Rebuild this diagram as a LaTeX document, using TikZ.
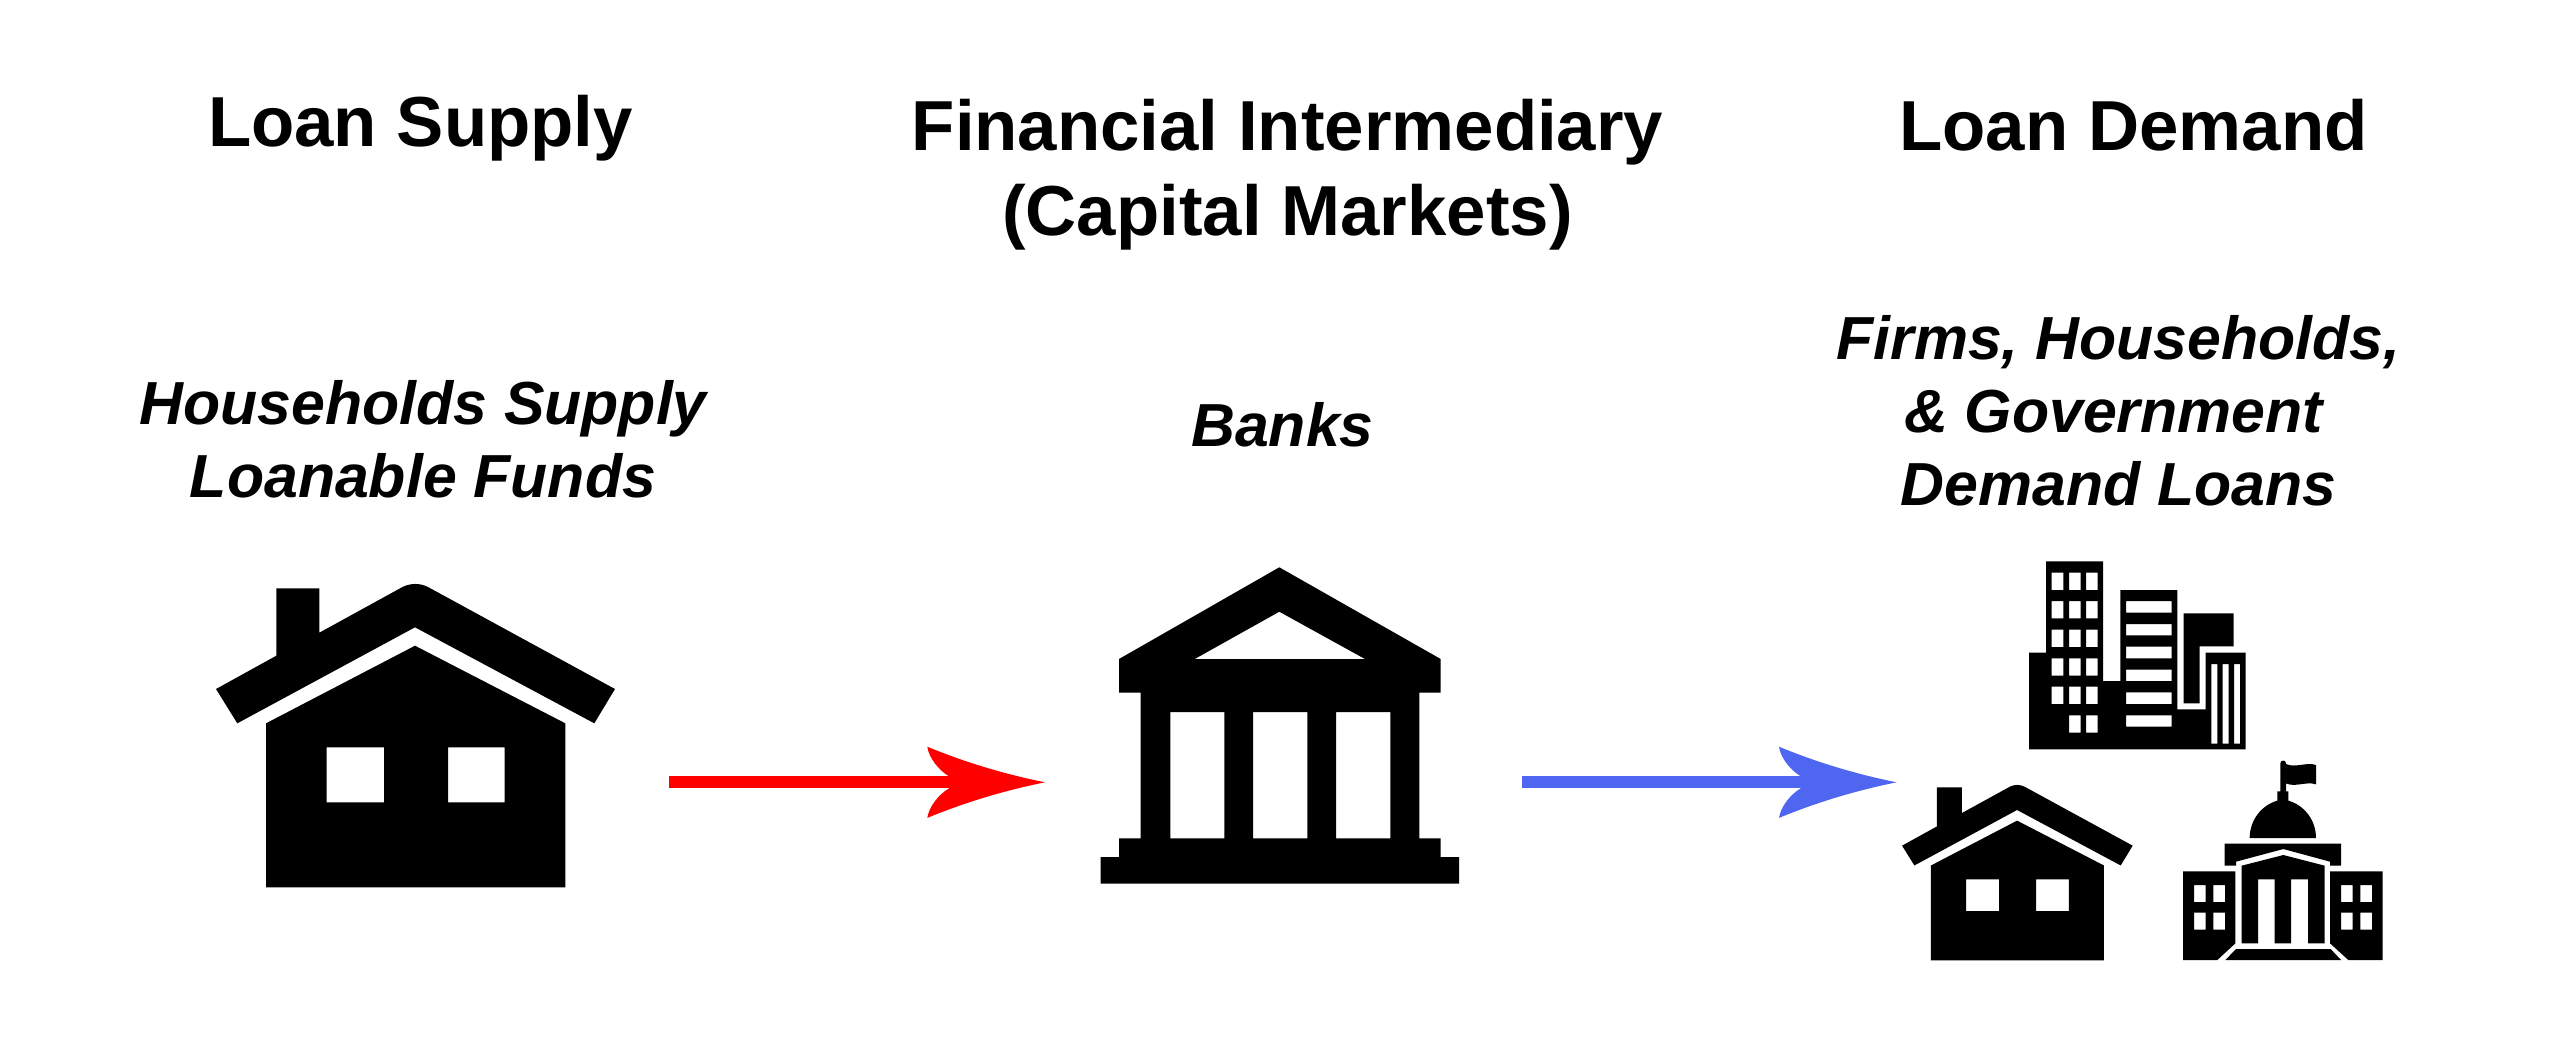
\documentclass[tikz,border=0pt]{standalone}
\usepackage{fontspec}
\setmainfont{Liberation Sans}
\usetikzlibrary{arrows.meta}
\definecolor{supplyred}{HTML}{FF0000}
\definecolor{demandblue}{HTML}{4F66F1}
\pgfdeclarearrow{
  name=Swoop,
  setup code={
    \pgfarrowssettipend{0pt}
    \pgfarrowssetbackend{-58.85pt}
    \pgfarrowssetlineend{-46pt}
    \pgfarrowssetvisualbackend{-46pt}
  },
  drawing code={
    \pgfpathmoveto{\pgfqpoint{0pt}{0pt}}
    \pgfpathcurveto{\pgfqpoint{-20pt}{4pt}}{\pgfqpoint{-40pt}{10pt}}{\pgfqpoint{-58.85pt}{17.8pt}}
    \pgfpathcurveto{\pgfqpoint{-58pt}{12pt}}{\pgfqpoint{-53pt}{6pt}}{\pgfqpoint{-48pt}{3pt}}
    \pgfpathlineto{\pgfqpoint{-48pt}{-3pt}}
    \pgfpathcurveto{\pgfqpoint{-53pt}{-6pt}}{\pgfqpoint{-58pt}{-12pt}}{\pgfqpoint{-58.85pt}{-17.8pt}}
    \pgfpathcurveto{\pgfqpoint{-40pt}{-10pt}}{\pgfqpoint{-20pt}{-4pt}}{\pgfqpoint{0pt}{0pt}}
    \pgfpathclose
    \pgfusepathqfill
  }
}
\tikzset{
  icon/.style={fill=black,draw=none,even odd rule},
  headtext/.style={inner sep=0pt,anchor=base,align=center,font=\bfseries\fontsize{35.4}{42.5}\selectfont},
  subtext/.style={inner sep=0pt,anchor=base,align=center,font=\bfseries\itshape\fontsize{30.4}{36.5}\selectfont},
  flow/.style={line width=6.15pt,-{Swoop}}
}
\newcommand{\HouseIcon}{%
  \fill[icon] (276.3,588.3) -- (319.3,588.3) -- (319.3,632.7) -- (403,586.7)
    .. controls (411,583) and (420,583) .. (428,587)
    -- (615,689) -- (594.3,723.3) -- (415,627.3) -- (237.3,723.3) -- (216,689) -- (276.3,655.7) -- cycle;
  \fill[icon] (266,723.3) -- (415,645.7) -- (565.3,723.3) -- (565.3,887.3) -- (266,887.3) -- cycle
    (326.7,747.3) rectangle (384,802.3)
    (448,747.3) rectangle (504.7,802.3);
}
\begin{document}
\begin{tikzpicture}[x=0.5pt,y=-0.5pt]
\useasboundingbox (0,0) rectangle (2560,1046);
\fill[white] (0,0) rectangle (2560,1046);

% headings
\node[headtext] (supplyhead) at (420.5,146.7) {Loan Supply};
\node[headtext] (bankhead) at (1287.5,235) {Financial Intermediary\\(Capital Markets)};
\node[headtext] (demandhead) at (2133.5,150) {Loan Demand};
\node[subtext] (supplysub) at (423,497.3) {Households Supply\\Loanable Funds};
\node[subtext] (banksub) at (1282.5,446.7) {Banks};
\node[subtext] (demandsub) at (2118.5,505) {Firms, Households,\\\& Government\rule{5pt}{0pt}\\Demand Loans};

% big house
\HouseIcon

% bank
\fill[icon] (1279.3,567.3) -- (1440.7,659) -- (1440.7,692.7) -- (1419.3,692.7) -- (1419.3,838.3)
  -- (1440.7,838.3) -- (1440.7,857) -- (1459,857) -- (1459,883.7) -- (1100.7,883.7) -- (1100.7,857)
  -- (1119,857) -- (1119,838.3) -- (1140.7,838.3) -- (1140.7,692.7) -- (1119,692.7) -- (1119,659) -- cycle
  (1279.3,611.7) -- (1365,659) -- (1194.7,659) -- cycle
  (1170.3,712) rectangle (1224.3,838.3)
  (1253,712) rectangle (1307.3,838.3)
  (1336,712) rectangle (1390.3,838.3);

% small house
\begin{scope}[shift={(1777.2,447.4)},scale=0.578]
  \HouseIcon
\end{scope}

% office buildings
\fill[icon] (2029,652.7) -- (2046,652.7) -- (2046,561.3) -- (2103,561.3) -- (2103,681) -- (2120.3,681)
  -- (2120.3,590) -- (2177.3,590) -- (2177.3,709.3) -- (2205.7,709.3) -- (2205.7,652.7) -- (2245.7,652.7)
  -- (2245.7,749.3) -- (2029,749.3) -- cycle
  (2051.7,572.7) rectangle (2063.3,590) (2069,572.7) rectangle (2080.7,590) (2086,572.7) rectangle (2097.7,590)
  (2051.7,601) rectangle (2063.3,618.3) (2069,601) rectangle (2080.7,618.3) (2086,601) rectangle (2097.7,618.3)
  (2051.7,629.7) rectangle (2063.3,647) (2069,629.7) rectangle (2080.7,647) (2086,629.7) rectangle (2097.7,647)
  (2051.7,658.3) rectangle (2063.3,675.7) (2069,658.3) rectangle (2080.7,675.7) (2086,658.3) rectangle (2097.7,675.7)
  (2051.7,686.7) rectangle (2063.3,704) (2069,686.7) rectangle (2080.7,704) (2086,686.7) rectangle (2097.7,704)
  (2069,715.3) rectangle (2080.7,732.7) (2086,715.3) rectangle (2097.7,732.7)
  (2126,601) rectangle (2171.7,612.7) (2126,624) rectangle (2171.7,635.3) (2126,646.7) rectangle (2171.7,658.3)
  (2126,669.7) rectangle (2171.7,681) (2126,692.3) rectangle (2171.7,704) (2126,715.3) rectangle (2171.7,726.7)
  (2211.3,664) rectangle (2217.3,743.7) (2222.7,664) rectangle (2228.7,743.7) (2234,664) rectangle (2240,743.7);
\fill[icon] (2183.7,613.3) -- (2233.7,613.3) -- (2233.7,646.3) -- (2199.7,646.3) -- (2199.7,703.3) -- (2183.7,703.3) -- cycle;

% government building
\begin{scope}[shift={(2160,750)},x=0.16667pt,y=-0.16667pt]
  \fill[icon] (361,40) .. controls (361,29) and (378,29) .. (378,40) -- (378,42)
    .. controls (405,55) and (440,35) .. (468,45) -- (468,103)
    .. controls (440,93) and (405,113) .. (378,100) -- (378,124) -- (385,124) -- (385,152)
    .. controls (432,165) and (468,210) .. (468,264) -- (269,264)
    .. controls (269,210) and (305,165) .. (352,152) -- (352,124) -- (361,124) -- cycle;
  \fill[icon] (194,281) -- (543,281) -- (543,347) -- (510,347) -- (510,335) -- (370,297) -- (228,335) -- (228,347) -- (194,347) -- cycle;
  \fill[icon] (245,347) -- (370,315) -- (494,347) -- (494,580) -- (444,580) -- (444,388) -- (393,388) -- (393,580)
    -- (344,580) -- (344,388) -- (294,388) -- (294,580) -- (245,580) -- cycle;
  \fill[icon] (69,364) -- (226,364) -- (226,580) -- (172,630) -- (69,630) -- cycle
    (102,405) rectangle (137,456) (160,405) rectangle (195,456)
    (102,488) rectangle (137,539) (160,488) rectangle (195,539);
  \fill[icon] (510,364) -- (668,364) -- (668,630) -- (565,630) -- (510,580) -- cycle
    (543,405) rectangle (578,456) (601,405) rectangle (636,456)
    (543,488) rectangle (578,539) (601,488) rectangle (636,539);
  \fill[icon] (228,597) -- (512,597) -- (543,630) -- (196,630) -- cycle;
\end{scope}

% connectors
\coordinate (supplyout) at (669.3,782.3);
\coordinate (bankin) at (1045,782.3);
\coordinate (bankout) at (1521.7,782.3);
\coordinate (demandin) at (1896.7,782.3);
\draw[flow,supplyred] (supplyout) -- (bankin);
\draw[flow,demandblue] (bankout) -- (demandin);
\end{tikzpicture}
\end{document}
